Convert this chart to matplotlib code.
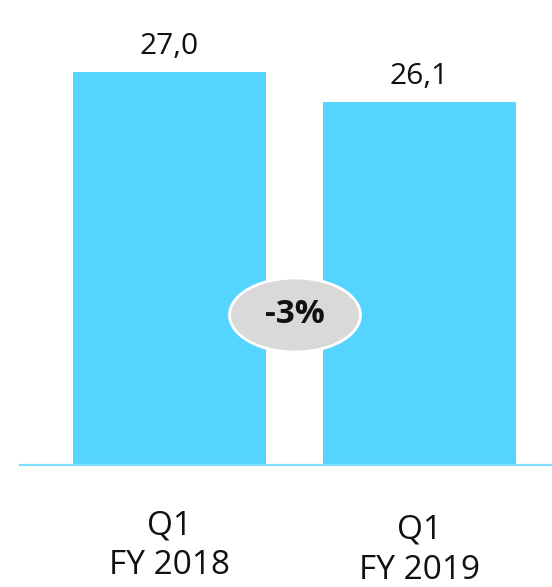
import matplotlib
matplotlib.use("Agg")
import matplotlib.pyplot as plt
from matplotlib.patches import Ellipse

categories = ["Q1\nFY 2018", "Q1\nFY 2019"]
values = [27.0, 26.1]
value_labels = ["27,0", "26,1"]
change_label = "-3%"

plt.rcParams['font.family'] = ['Open Sans', 'DejaVu Sans']

W, H = 552, 587
fig = plt.figure(figsize=(W/100, H/100), dpi=100)
ax = fig.add_axes([20/W, 122/H, 532/W, 465/H])

bar_color = "#55D4FF"
x = [0, 1]
ax.bar(x, values, width=0.772, color=bar_color, zorder=2)
ax.set_xlim(-0.598, 1.53)
ax.set_ylim(15.2, 15.2 + 465/33.33)

for s in ax.spines.values():
    s.set_visible(False)
ax.axhline(15.2, color="#80DEFF", lw=1.6, zorder=3, clip_on=False)
ax.set_xticks([])
ax.set_yticks([])

for xi, v, lab in zip(x, values, value_labels):
    ax.annotate(lab, (xi, v), xytext=(0, 13), textcoords="offset points",
                ha="center", va="baseline", fontsize=21.5, color="#111111")

# category labels
offsets = [-32, -35]
for xi, cat, off in zip(x, categories, offsets):
    ax.annotate(cat, (xi, 0), xycoords=("data", "axes fraction"),
                xytext=(0, off), textcoords="offset points",
                ha="center", va="top", fontsize=24, color="#111111",
                linespacing=1.28)

# change bubble
ell = Ellipse((0.502, 15.2 + 150/33.33), width=0.524, height=2.22,
              facecolor="#D9D9D9", edgecolor="white", lw=2, zorder=4)
ax.add_patch(ell)
ax.text(0.502, 15.2 + 150/33.33, change_label, ha="center", va="center",
        fontsize=24, fontweight="bold", color="#111111", zorder=5)

fig.savefig("out.png", dpi=100)
